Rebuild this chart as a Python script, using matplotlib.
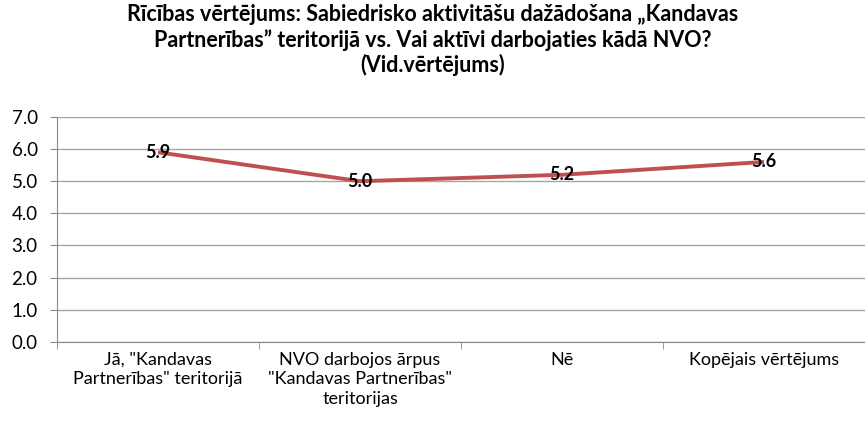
import matplotlib.pyplot as plt
import numpy as np

plt.rcParams['font.family'] = ['Lato', 'DejaVu Sans']

categories = ['Jā, "Kandavas\nPartnerības" teritorijā',
              'NVO darbojos ārpus\n"Kandavas Partnerības"\nteritorijas',
              'Nē',
              'Kopējais vērtējums']
values = [5.9, 5.0, 5.2, 5.6]
yticks = [0.0, 1.0, 2.0, 3.0, 4.0, 5.0, 6.0, 7.0]
title = ('Rīcības vērtējums: Sabiedrisko aktivitāšu dažādošana „Kandavas\n'
         'Partnerības” teritorijā vs. Vai aktīvi darbojaties kādā NVO?\n'
         '(Vid.vērtējums)')

fig = plt.figure(figsize=(8.65, 4.3), dpi=100)
ax = fig.add_axes([0.066, 0.205, 0.934, 0.523])

x = np.arange(len(categories))
ax.plot(x, values, color='#C0504D', lw=2.8, solid_capstyle='butt', zorder=3)
for xi, v in zip(x, values):
    ax.text(xi, v, f'{v:.1f}', ha='center', va='center', fontsize=13,
            fontweight='bold', color='black', zorder=4)

ax.set_xlim(-0.5, len(categories) - 0.5)
ax.set_ylim(0, 7)
ax.set_yticks(yticks)
ax.set_yticklabels([f'{t:.1f}' for t in yticks], fontsize=13.5)
ax.set_xticks(x)
ax.set_xticklabels(categories, fontsize=13, linespacing=1.3)
ax.tick_params(axis='x', length=0, pad=7)
ax.set_xticks(np.arange(len(categories) + 1) - 0.5, minor=True)
ax.tick_params(axis='x', which='minor', length=5, color='#888888')
ax.tick_params(axis='y', length=5, color='#888888', pad=9)

ax.grid(axis='y', color='#A6A6A6', lw=1)
ax.set_axisbelow(True)
for s in ['top', 'right']:
    ax.spines[s].set_visible(False)
ax.spines['left'].set_color('#888888')
ax.spines['bottom'].set_color('#888888')

fig.suptitle(title, fontsize=15.5, fontweight='bold', y=0.99, linespacing=1.2)

fig.savefig('out.png', dpi=100)
